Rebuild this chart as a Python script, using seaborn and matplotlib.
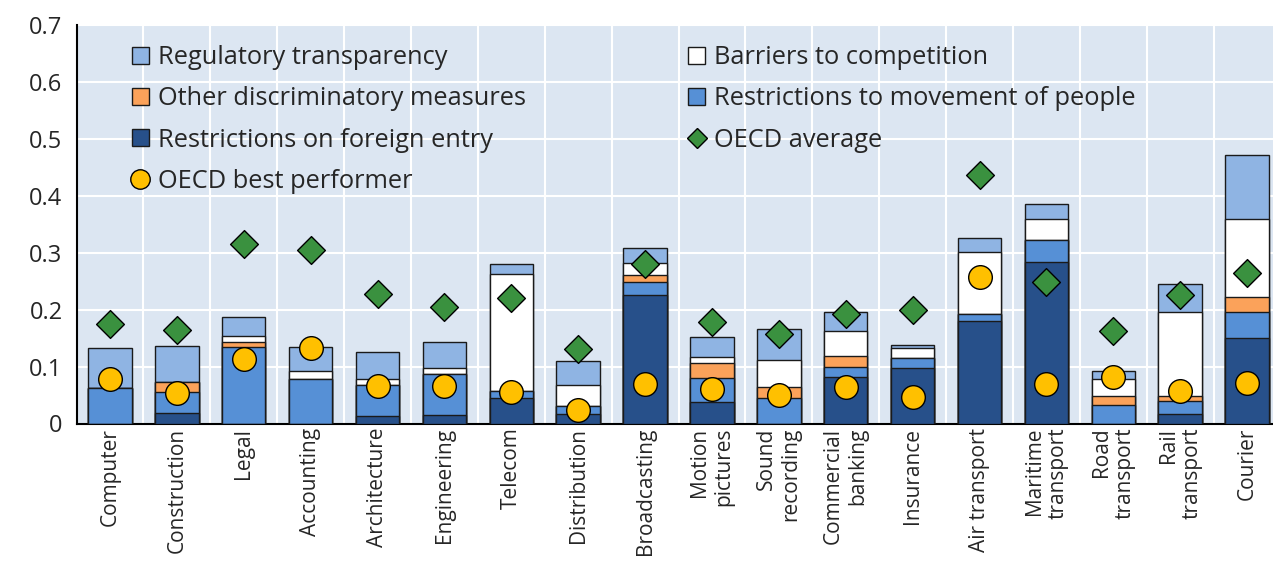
import numpy as np
import pandas as pd
import matplotlib
matplotlib.use("Agg")
import matplotlib.pyplot as plt
from matplotlib.patches import Patch
from matplotlib.lines import Line2D
from matplotlib.ticker import FixedLocator
import seaborn as sns

sectors = ["Computer", "Construction", "Legal", "Accounting", "Architecture",
           "Engineering", "Telecom", "Distribution", "Broadcasting",
           "Motion\npictures", "Sound\nrecording", "Commercial\nbanking",
           "Insurance", "Air transport", "Maritime\ntransport", "Road\ntransport",
           "Rail\ntransport", "Courier"]

foreign_entry = [0.000, 0.018, 0.000, 0.000, 0.014, 0.015, 0.045, 0.016, 0.226,
                 0.037, 0.000, 0.081, 0.097, 0.180, 0.284, 0.000, 0.016, 0.150]
movement_people = [0.062, 0.038, 0.134, 0.079, 0.053, 0.072, 0.012, 0.014, 0.023,
                   0.043, 0.044, 0.019, 0.018, 0.012, 0.039, 0.032, 0.024, 0.046]
other_discrim = [0.000, 0.017, 0.009, 0.000, 0.000, 0.000, 0.000, 0.000, 0.011,
                 0.026, 0.020, 0.019, 0.000, 0.000, 0.000, 0.017, 0.009, 0.027]
barriers_comp = [0.000, 0.000, 0.010, 0.013, 0.011, 0.011, 0.205, 0.037, 0.022,
                 0.010, 0.047, 0.043, 0.017, 0.110, 0.036, 0.029, 0.146, 0.136]
reg_transparency = [0.071, 0.063, 0.034, 0.043, 0.047, 0.046, 0.019, 0.042, 0.026,
                    0.036, 0.055, 0.034, 0.006, 0.023, 0.026, 0.014, 0.050, 0.113]

oecd_average = [0.175, 0.165, 0.316, 0.304, 0.228, 0.204, 0.220, 0.130, 0.280,
                0.179, 0.158, 0.192, 0.199, 0.437, 0.249, 0.163, 0.225, 0.264]
oecd_best = [0.079, 0.054, 0.114, 0.133, 0.066, 0.065, 0.056, 0.023, 0.070,
             0.061, 0.050, 0.064, 0.047, 0.258, 0.070, 0.081, 0.057, 0.071]

c_foreign = "#27508A"
c_movement = "#5690D6"
c_other = "#FBA25A"
c_barriers = "#FFFFFF"
c_transp = "#8FB4E3"
c_avg = "#3A913F"
c_best = "#FFC000"
edge = "#1A1A1A"

df = pd.DataFrame({"sector": sectors, "foreign": foreign_entry,
                   "movement": movement_people, "other": other_discrim,
                   "barriers": barriers_comp, "transp": reg_transparency,
                   "avg": oecd_average, "best": oecd_best})

# cumulative stacks, drawn from the top layer down
layers = [("transp", c_transp), ("barriers", c_barriers), ("other", c_other),
          ("movement", c_movement), ("foreign", c_foreign)]
order = ["foreign", "movement", "other", "barriers", "transp"]
cum = df[order].cumsum(axis=1)

sns.set_theme(style="white")
plt.rcParams["font.family"] = ["Open Sans", "DejaVu Sans"]

fig = plt.figure(figsize=(12.73, 5.63), dpi=100)
ax = fig.add_axes([76.5 / 1273, 1 - 423.5 / 563, 1204 / 1273, 398.5 / 563])
ax.set_facecolor("#DCE6F2")

for name, color in layers:
    sns.barplot(x=df["sector"], y=cum[name], color=color, saturation=1,
                width=0.65, edgecolor=edge, linewidth=1.0, errorbar=None,
                ax=ax, zorder=3)

pos = np.arange(len(sectors))
sns.scatterplot(x=pos, y=df["avg"], marker="D", s=200, color=c_avg,
                edgecolor="black", linewidth=1.0, ax=ax, zorder=4)
sns.scatterplot(x=pos, y=df["best"], marker="o", s=290, color=c_best,
                edgecolor="black", linewidth=1.0, ax=ax, zorder=5)

ax.set_xlim(-0.5, len(sectors) - 0.5)
ax.set_ylim(0, 0.7)
ax.set_yticks(np.arange(0, 0.71, 0.1))
ax.set_yticklabels(["0"] + ["%.1f" % v for v in np.arange(0.1, 0.71, 0.1)])
ax.set_xticks(pos)
ax.set_xticklabels(sectors, rotation=90, multialignment="right", fontsize=15)
ax.xaxis.set_minor_locator(FixedLocator(np.arange(0.5, len(sectors) - 0.5, 1)))
ax.tick_params(axis="x", which="major", length=0, pad=3)
ax.tick_params(axis="x", which="minor", length=6, width=1, color="black", direction="out")
ax.tick_params(axis="y", which="major", length=6, width=1, color="black",
               direction="out", labelsize=17, pad=4)
ax.grid(axis="y", which="major", color="white", linewidth=1.5, zorder=0)
ax.grid(axis="x", which="minor", color="white", linewidth=1.5, zorder=0)
ax.grid(axis="x", which="major", visible=False)
ax.set_axisbelow(True)
ax.set_xlabel("")
ax.set_ylabel("")
for s in ["top", "right"]:
    ax.spines[s].set_visible(False)
for s in ["left", "bottom"]:
    ax.spines[s].set_color("black")
    ax.spines[s].set_linewidth(1.5)

handles = [
    Patch(facecolor=c_transp, edgecolor=edge, label="Regulatory transparency"),
    Patch(facecolor=c_other, edgecolor=edge, label="Other discriminatory measures"),
    Patch(facecolor=c_foreign, edgecolor=edge, label="Restrictions on foreign entry"),
    Line2D([], [], marker="o", linestyle="none", markersize=14, markerfacecolor=c_best,
           markeredgecolor="black", label="OECD best performer"),
    Patch(facecolor=c_barriers, edgecolor=edge, label="Barriers to competition"),
    Patch(facecolor=c_movement, edgecolor=edge, label="Restrictions to movement of people"),
    Line2D([], [], marker="D", linestyle="none", markersize=10, markerfacecolor=c_avg,
           markeredgecolor="black", label="OECD average"),
]
ax.legend(handles=handles, ncol=2, frameon=False, fontsize=18.3,
          loc="upper left", bbox_to_anchor=(132 / 1273, 1 - 45 / 563),
          bbox_transform=fig.transFigure, borderpad=0, borderaxespad=0,
          handlelength=0.65, handleheight=0.65, handletextpad=0.36,
          labelspacing=0.64, columnspacing=6.4)

fig.savefig("out.png", dpi=100)
